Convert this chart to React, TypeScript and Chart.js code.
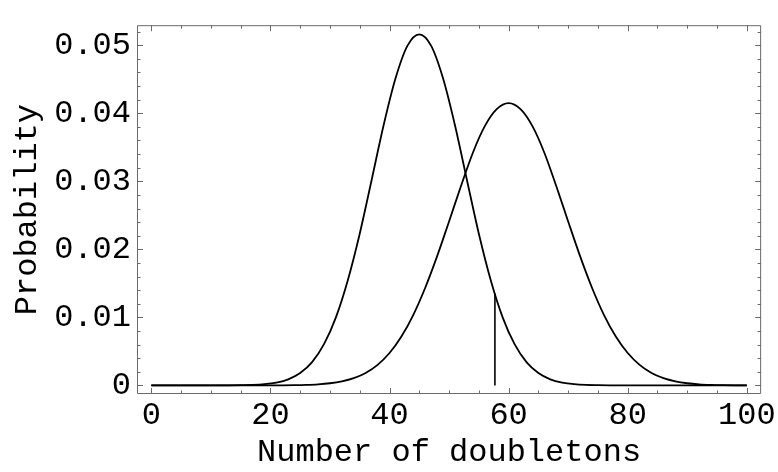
import React, { useEffect, useRef } from 'react';
import { Chart, registerables } from 'chart.js';

Chart.register(...registerables);

const curveAX = [0, 10, 13, 15, 17, 19, 21, 23, 25, 27, 29, 31, 33, 35, 37, 39, 41, 43, 45, 47, 49, 51, 53, 55, 57, 59, 61, 63, 65, 67, 69, 71, 73, 75, 77, 80, 90, 100];
const curveAY = [0, 0, 0.00001, 0.00003, 0.00007, 0.00018, 0.00042, 0.0009, 0.00182, 0.00343, 0.00606, 0.01001, 0.01547, 0.0223, 0.0302, 0.0382, 0.0451, 0.0499, 0.0516, 0.0499, 0.0451, 0.0382, 0.0302, 0.0223, 0.01547, 0.01001, 0.00606, 0.00343, 0.00182, 0.0009, 0.00042, 0.00018, 0.00007, 0.00003, 0.00001, 0, 0, 0];

const curveBX = [0, 10, 16, 20, 22, 24, 26, 28, 30, 32, 34, 36, 38, 40, 42, 44, 46, 48, 50, 52, 54, 56, 58, 60, 62, 64, 66, 68, 70, 72, 74, 76, 78, 80, 82, 84, 86, 88, 90, 92, 94, 96, 98, 100];
const curveBY = [0, 0, 0, 0.00001, 0.00002, 0.00004, 0.00008, 0.00016, 0.00032, 0.0006, 0.00107, 0.00183, 0.00302, 0.00476, 0.00718, 0.01038, 0.01436, 0.019, 0.0241, 0.0293, 0.0342, 0.0381, 0.0406, 0.0415, 0.0406, 0.0381, 0.0342, 0.0293, 0.0241, 0.019, 0.01436, 0.01038, 0.00718, 0.00476, 0.00302, 0.00183, 0.00107, 0.0006, 0.00032, 0.00016, 0.00008, 0.00004, 0.00002, 0.00001];

const markerX = [57.7, 57.7];
const markerY = [0, 0.0135];

const xTickValues = [0, 20, 40, 60, 80, 100];
const xTickLabels = ['0', '20', '40', '60', '80', '100'];
const yTickValues = [0, 0.01, 0.02, 0.03, 0.04, 0.05];
const yTickLabels = ['0', '0.01', '0.02', '0.03', '0.04', '0.05'];

const xMinorStep = 5;
const yMinorStep = 0.002;

const xTitle = 'Number of doubletons';
const yTitle = 'Probability';

const FONT = "'Liberation Mono', 'DejaVu Sans Mono', monospace";
const FRAME = '#6a6a6a';

const toPoints = (xs: number[], ys: number[]) => xs.map((x, i) => ({ x, y: ys[i] }));

const framePlugin = {
  id: 'mmaFrame',
  afterDatasetsDraw(chart: any) {
    const { ctx, chartArea } = chart;
    const xs = chart.scales.x;
    const ys = chart.scales.y;
    const { left, right, top, bottom } = chartArea;
    ctx.save();
    ctx.strokeStyle = FRAME;
    ctx.lineWidth = 1;
    ctx.beginPath();
    ctx.rect(left + 0.5, top + 0.5, right - left - 1, bottom - top - 1);
    ctx.stroke();

    const drawX = (v: number, len: number) => {
      const p = Math.round(xs.getPixelForValue(v)) + 0.5;
      ctx.moveTo(p, bottom);
      ctx.lineTo(p, bottom - len);
      ctx.moveTo(p, top);
      ctx.lineTo(p, top + len);
    };
    const drawY = (v: number, len: number) => {
      const p = Math.round(ys.getPixelForValue(v)) + 0.5;
      ctx.moveTo(left, p);
      ctx.lineTo(left + len, p);
      ctx.moveTo(right, p);
      ctx.lineTo(right - len, p);
    };
    ctx.beginPath();
    for (let v = 0; v <= 100 + 1e-9; v += xMinorStep) {
      const major = xTickValues.some((t) => Math.abs(t - v) < 1e-9);
      drawX(v, major ? 6 : 3.5);
    }
    for (let k = 0; k * yMinorStep <= ys.max; k++) {
      const v = k * yMinorStep;
      const major = yTickValues.some((t) => Math.abs(t - v) < 1e-9);
      drawY(v, major ? 6 : 3.5);
    }
    ctx.stroke();
    ctx.restore();
  },
};

export default function App() {
  const ref = useRef<HTMLCanvasElement | null>(null);
  useEffect(() => {
    if (!ref.current) return;
    const chart = new Chart(ref.current, {
      type: 'line',
      data: {
        datasets: [
          {
            data: toPoints(curveAX, curveAY),
            borderColor: '#000',
            borderWidth: 1.8,
            pointRadius: 0,
            fill: false,
            cubicInterpolationMode: 'monotone',
          },
          {
            data: toPoints(curveBX, curveBY),
            borderColor: '#000',
            borderWidth: 1.8,
            pointRadius: 0,
            fill: false,
            cubicInterpolationMode: 'monotone',
          },
          {
            data: toPoints(markerX, markerY),
            borderColor: '#000',
            borderWidth: 1.6,
            pointRadius: 0,
            fill: false,
          },
        ],
      },
      options: {
        animation: false,
        responsive: false,
        maintainAspectRatio: false,
        layout: { padding: { left: 0, top: 7, right: 16, bottom: 0 } },
        plugins: { legend: { display: false }, tooltip: { enabled: false } },
        scales: {
          x: {
            type: 'linear',
            min: -2.4,
            max: 102.4,
            grid: { display: false, drawTicks: false },
            border: { display: false },
            afterBuildTicks: (scale: any) => {
              scale.ticks = xTickValues.map((v) => ({ value: v }));
            },
            afterFit: (scale: any) => {
              scale.height = 78;
            },
            ticks: {
              color: '#000',
              font: { family: FONT, size: 32 },
              padding: 2,
              maxRotation: 0,
              autoSkip: false,
              callback: (v: any) => {
                const i = xTickValues.findIndex((t) => Math.abs(t - Number(v)) < 1e-9);
                return i >= 0 ? xTickLabels[i] : '';
              },
            },
            title: {
              display: true,
              text: xTitle,
              color: '#000',
              font: { family: FONT, size: 32 },
              padding: { top: 0, bottom: 0 },
            },
          },
          y: {
            type: 'linear',
            min: -0.00126,
            max: 0.05294,
            grid: { display: false, drawTicks: false },
            border: { display: false },
            afterBuildTicks: (scale: any) => {
              scale.ticks = yTickValues.map((v) => ({ value: v }));
            },
            afterFit: (scale: any) => {
              scale.width = 137;
            },
            ticks: {
              color: '#000',
              font: { family: FONT, size: 32 },
              padding: 6,
              autoSkip: false,
              callback: (v: any) => {
                const i = yTickValues.findIndex((t) => Math.abs(t - Number(v)) < 1e-9);
                return i >= 0 ? yTickLabels[i] : '';
              },
            },
            title: {
              display: true,
              text: yTitle,
              color: '#000',
              font: { family: FONT, size: 32 },
              padding: { top: 8, bottom: 8 },
            },
          },
        },
      },
      plugins: [framePlugin],
    } as any);
    return () => chart.destroy();
  }, []);
  return (
    <div style={{ position: 'fixed', left: 0, top: 0, width: 778, height: 472, background: '#fff' }}>
      <canvas ref={ref} width={778} height={472} style={{ width: 778, height: 472 }} />
    </div>
  );
}
